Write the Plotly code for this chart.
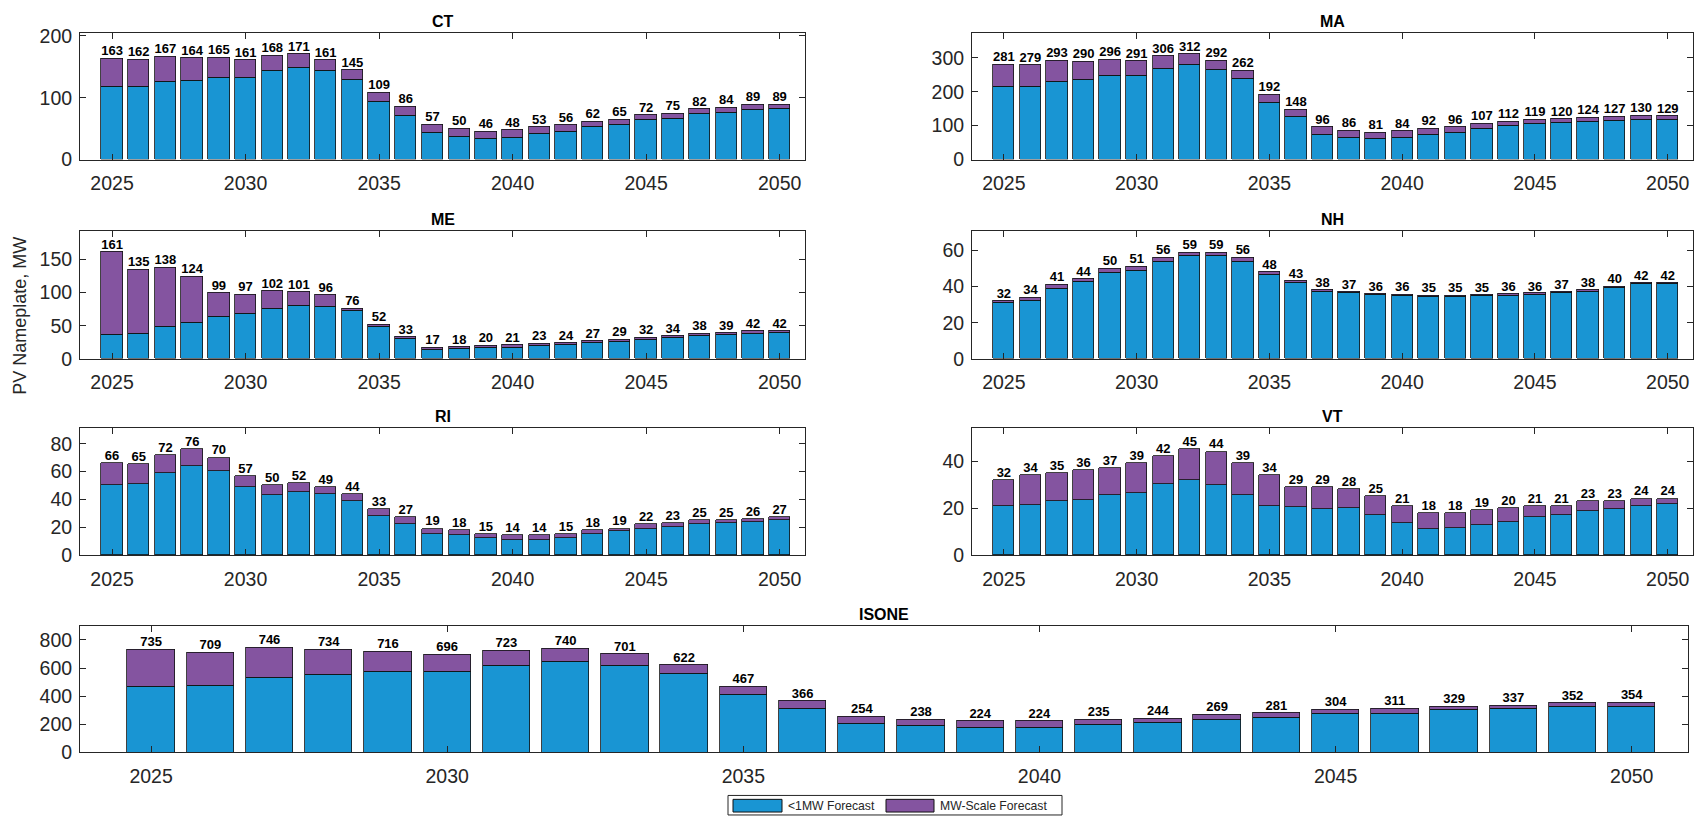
import plotly.graph_objects as go

years = list(range(2025, 2051))

ct_total = [163, 162, 167, 164, 165, 161, 168, 171, 161, 145, 109, 86, 57, 50, 46, 48, 53, 56, 62, 65, 72, 75, 82, 84, 89, 89]
ct_small = [118, 118, 126, 127, 132, 133, 144, 149, 143, 129, 93, 71, 44, 37, 34, 36, 42, 46, 53, 56, 64, 67, 74, 76, 81, 83]
ct_mw = [45, 44, 41, 37, 33, 28, 24, 22, 18, 16, 16, 15, 13, 13, 12, 12, 11, 10, 9, 9, 8, 8, 8, 8, 8, 6]

ma_total = [281, 279, 293, 290, 296, 291, 306, 312, 292, 262, 192, 148, 96, 86, 81, 84, 92, 96, 107, 112, 119, 120, 124, 127, 130, 129]
ma_small = [215, 215, 231, 235, 247, 248, 267, 280, 264, 238, 168, 127, 73, 65, 61, 65, 74, 80, 90, 99, 105, 109, 113, 116, 119, 119]
ma_mw = [66, 64, 62, 55, 49, 43, 39, 32, 28, 24, 24, 21, 23, 21, 20, 19, 18, 16, 17, 13, 14, 11, 11, 11, 11, 10]

me_total = [161, 135, 138, 124, 99, 97, 102, 101, 96, 76, 52, 33, 17, 18, 20, 21, 23, 24, 27, 29, 32, 34, 38, 39, 42, 42]
me_small = [36, 38, 49, 55, 64, 68, 76, 80, 78, 72, 48, 30, 13, 15, 17, 17, 20, 21, 24, 25, 28, 31, 34, 36, 38, 39]
me_mw = [125, 97, 89, 69, 35, 29, 26, 21, 18, 4, 4, 3, 4, 3, 3, 4, 3, 3, 3, 4, 4, 3, 4, 3, 4, 3]

nh_total = [32, 34, 41, 44, 50, 51, 56, 59, 59, 56, 48, 43, 38, 37, 36, 36, 35, 35, 35, 36, 36, 37, 38, 40, 42, 42]
nh_small = [30.8, 31.8, 38.8, 42.4, 47.8, 48.8, 53.8, 56.7, 56.7, 53.8, 46.6, 41.8, 36.8, 36.6, 35.3, 34.8, 34.3, 34.3, 34.6, 34.9, 35.5, 36.3, 37.3, 39.2, 41.2, 41.4]
nh_mw = [1.4, 2.2, 2.2, 1.6, 2.1, 2.1, 2.1, 2.1, 2.1, 2.0, 1.3, 1.1, 1.1, 0.7, 0.7, 0.7, 0.7, 0.6, 0.6, 0.8, 0.8, 0.7, 0.7, 0.8, 0.8, 0.8]

ri_total = [66, 65, 72, 76, 70, 57, 50, 52, 49, 44, 33, 27, 19, 18, 15, 14, 14, 15, 18, 19, 22, 23, 25, 25, 26, 27]
ri_small = [50, 51, 59, 64, 60, 49, 43, 45, 44, 39, 28, 22, 15, 14, 12, 11, 11, 12, 15, 17, 19, 20, 22, 23, 24, 25]
ri_mw = [16, 14, 13, 12, 10, 8, 7, 7, 5, 5, 5, 5, 4, 4, 3, 3, 3, 3, 3, 2, 3, 3, 3, 2, 2, 2]

vt_total = [32, 34, 35, 36, 37, 39, 42, 45, 44, 39, 34, 29, 29, 28, 25, 21, 18, 18, 19, 20, 21, 21, 23, 23, 24, 24]
vt_small = [20.7, 21.1, 23, 23.4, 25.6, 26.5, 30, 31.8, 29.9, 25.5, 20.7, 20.3, 19.7, 19.9, 16.9, 13.7, 11, 11.3, 12.8, 14.2, 16.3, 17, 18.5, 19.5, 21, 21.5]
vt_mw = [11.3, 12.9, 12, 12.6, 11.4, 12.5, 12, 13.2, 14.1, 13.5, 13.3, 8.7, 9.3, 8.1, 8.1, 7.3, 7, 6.7, 6.2, 5.8, 4.7, 4, 4.5, 3.5, 3, 2.5]

isone_total = [735, 709, 746, 734, 716, 696, 723, 740, 701, 622, 467, 366, 254, 238, 224, 224, 235, 244, 269, 281, 304, 311, 329, 337, 352, 354]
isone_small = [472, 477, 532, 551, 578, 578, 617, 650, 615, 562, 410, 316, 205, 191, 177, 177, 196, 210, 233, 251, 274, 279, 302, 313, 325, 330]
isone_mw = [263, 232, 214, 183, 138, 118, 106, 90, 86, 60, 57, 50, 49, 47, 47, 47, 39, 34, 36, 30, 30, 32, 27, 24, 27, 24]

x_ticks = [2025, 2030, 2035, 2040, 2045, 2050]
series_names = ["<1MW Forecast", "MW-Scale Forecast"]

# page body adds an 8px margin; the figure is sized to fit the 1706x825 window
OFF = 8
W, H = 1706 - OFF, 825 - OFF
BLUE = "#1995D3"
PURPLE = "#8454A0"
AX = "#262626"
FONT = "Liberation Sans, Arial, sans-serif"


def fx(a):
    return (a - OFF) / W


def fy(b):
    return 1 - (b - OFF) / H


def px_x(a, b):
    return [fx(a), fx(b)]


def px_y(top, bottom):
    return [fy(bottom), fy(top)]


panels = [
    ("CT", ct_total, ct_small, ct_mw, px_x(80, 805), px_y(25, 155), 100),
    ("MA", ma_total, ma_small, ma_mw, px_x(972, 1693), px_y(25, 155), 100),
    ("ME", me_total, me_small, me_mw, px_x(80, 805), px_y(228, 359), 50),
    ("NH", nh_total, nh_small, nh_mw, px_x(972, 1693), px_y(228, 359), 20),
    ("RI", ri_total, ri_small, ri_mw, px_x(80, 805), px_y(430, 560), 20),
    ("VT", vt_total, vt_small, vt_mw, px_x(972, 1693), px_y(430, 560), 20),
    ("ISONE", isone_total, isone_small, isone_mw, px_x(80, 1688), px_y(633, 762), 200),
]

fig = go.Figure()
annotations = []
shapes = []
layout_axes = {}

for i, (name, total, small, mw, xd, yd, dt) in enumerate(panels):
    n = "" if i == 0 else str(i + 1)
    xa, ya = "x" + n, "y" + n
    fig.add_trace(go.Bar(
        x=years, y=small, name=series_names[0],
        marker=dict(color=BLUE, line=dict(color="#111", width=0.8)),
        width=0.8, xaxis=xa, yaxis=ya, showlegend=False,
    ))
    fig.add_trace(go.Bar(
        x=years, y=mw, name=series_names[1],
        marker=dict(color=PURPLE, line=dict(color="#111", width=0.8)),
        width=0.8, xaxis=xa, yaxis=ya, showlegend=False,
    ))
    fig.add_trace(go.Scatter(
        x=years, y=total, mode="text", text=[str(v) for v in total], textposition="top center",
        textfont=dict(family=FONT, size=13, color="#000", weight="bold"),
        xaxis=xa, yaxis=ya, showlegend=False, hoverinfo="skip", cliponaxis=False,
    ))
    common = dict(showline=True, linecolor=AX, linewidth=1, mirror="ticks", ticks="inside",
                  ticklen=6, tickcolor=AX, showgrid=False, zeroline=False,
                  tickfont=dict(family=FONT, size=19.5, color=AX))
    layout_axes["xaxis" + n] = dict(domain=xd, range=[2023.8, 2050.95], tickvals=x_ticks,
                                    anchor=ya, ticklabelstandoff=6, **common)
    layout_axes["yaxis" + n] = dict(domain=yd, range=[0, 1.2 * max(total)], dtick=dt,
                                    anchor=xa, ticklabelstandoff=3, **common)
    annotations.append(dict(text="<b>" + name + "</b>", x=(xd[0] + xd[1]) / 2, y=yd[1],
                            xref="paper", yref="paper", xanchor="center", yanchor="bottom",
                            yshift=1, showarrow=False, font=dict(family=FONT, size=16, color="#000")))

annotations.append(dict(text="PV Nameplate, MW", x=fx(20), y=fy(315), xref="paper", yref="paper",
                        textangle=-90, showarrow=False, xanchor="center", yanchor="middle",
                        font=dict(family=FONT, size=18, color=AX)))


def rect(x0, y0, x1, y1, fill, line):
    return dict(type="rect", xref="paper", yref="paper", x0=fx(x0), x1=fx(x1),
                y0=fy(y1), y1=fy(y0), fillcolor=fill, line=dict(color=line, width=1))


# legend box
shapes.append(rect(728, 806, 1062, 826, "white", AX))
shapes.append(rect(733, 810, 782, 823, BLUE, "#111"))
shapes.append(rect(886, 810, 934, 823, PURPLE, "#111"))
for tx, label in [(786, series_names[0]), (938, series_names[1])]:
    annotations.append(dict(text=label, x=fx(tx), y=fy(816.5), xref="paper", yref="paper",
                            xanchor="left", yanchor="middle", showarrow=False,
                            font=dict(family=FONT, size=12.2, color=AX)))

fig.update_layout(
    width=W, height=H, barmode="stack", bargap=0,
    paper_bgcolor="white", plot_bgcolor="white",
    margin=dict(l=0, r=0, t=0, b=0),
    annotations=annotations, shapes=shapes, showlegend=False,
    **layout_axes,
)

fig.write_html("out.html")
